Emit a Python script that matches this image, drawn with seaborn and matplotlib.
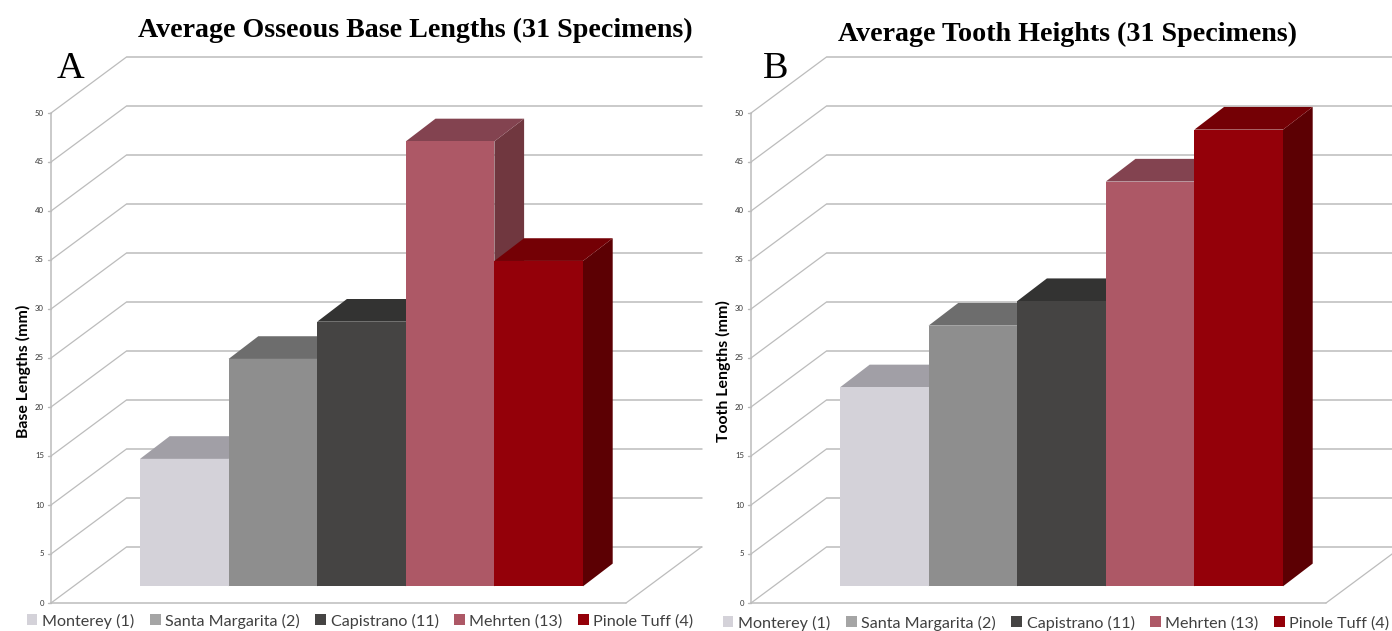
import matplotlib
matplotlib.use("Agg")
import matplotlib.pyplot as plt
import pandas as pd
import seaborn as sns
from matplotlib.patches import Polygon

units = ["Monterey (1)", "Santa Margarita (2)", "Capistrano (11)", "Mehrten (13)", "Pinole Tuff (4)"]
base_lengths = [13.0, 23.2, 27.0, 45.4, 33.2]
tooth_heights = [20.3, 26.6, 29.1, 41.3, 46.6]
ticks = [0, 5, 10, 15, 20, 25, 30, 35, 40, 45, 50]
front_colors = ["#d4d2d9", "#8e8e8e", "#454443", "#ad5866", "#940009"]
top_colors = ["#a19fa6", "#6d6d6d", "#333332", "#834350", "#740005"]
side_colors = ["#8d8b92", "#5e5e5e", "#2b2b2a", "#70373f", "#5c0003"]
legend_colors = ["#d4d2d9", "#a5a5a5", "#454443", "#ad5866", "#940009"]

W, H = 1392, 631
BAR_W, UNIT_H, BAR_BASE = 88.6, 9.8, 586.3
FONT = "Lato"
GRID = "#bcbcbc"

sns.set_theme(style="white")
plt.rcParams["font.family"] = [FONT, "DejaVu Sans"]
fig = plt.figure(figsize=(W / 100, H / 100), dpi=100, facecolor="white")


def panel(values, ax_left, ax_right, bar_left, letter, letter_x, title, title_x, title_y, ylabel, ylabel_x,
          legend_x, legend_y):
    ax = fig.add_axes([ax_left / W, 0, (ax_right - ax_left) / W, 1])
    df = pd.DataFrame({"unit": units, "value": values})
    sns.barplot(data=df, x="unit", y="value", hue="unit", order=units, hue_order=units,
                palette=front_colors, width=1, dodge=False, saturation=1, ax=ax, legend=False)
    ax.set_xlim((ax_left - bar_left) / BAR_W - 0.5, (ax_right - bar_left) / BAR_W - 0.5)
    ax.set_ylim((BAR_BASE - H) / UNIT_H, BAR_BASE / UNIT_H)
    ax.axis("off")

    # walls of the pseudo-3D frame, expressed in the bar axes' data units
    x0 = -89 / BAR_W - 0.5
    wall_dx, wall_dy = 75.5 / BAR_W, 56 / UNIT_H
    y0 = (BAR_BASE - 603) / UNIT_H
    wall_w = 575 / BAR_W
    depth_dx, depth_dy = 29.7 / BAR_W, 22.7 / UNIT_H
    for t in ticks:
        ax.plot([x0, x0 + wall_dx], [y0 + t, y0 + t + wall_dy], color=GRID, lw=0.9, zorder=1)
        ax.plot([x0 + wall_dx, x0 + wall_dx + wall_w], [y0 + t + wall_dy] * 2, color=GRID, lw=1.1, zorder=1)
        ax.plot([x0 - 3.5 / BAR_W, x0], [y0 + t] * 2, color=GRID, lw=1, zorder=1)
        ax.text(x0 - 7 / BAR_W, y0 + t, str(t), ha="right", va="center", fontsize=5.6, color="#333333")
    ax.plot([x0, x0], [y0, y0 + 50], color=GRID, lw=1.1, zorder=1)
    ax.plot([x0, x0 + wall_w], [y0, y0], color=GRID, lw=1.1, zorder=1)
    ax.plot([x0 + wall_w, x0 + wall_w + wall_dx], [y0, y0 + wall_dy], color=GRID, lw=0.9, zorder=1)

    # bar sides and tops, from the same values as the seaborn bars
    bars = list(ax.patches)
    for i, (bar, v) in enumerate(zip(bars, values)):
        bar.set_zorder(4 + i * 3)
        bar.set_linewidth(0)
        lft, rgt = i - 0.5, i + 0.5
        ax.add_patch(Polygon([(rgt, 0), (rgt + depth_dx, depth_dy), (rgt + depth_dx, v + depth_dy), (rgt, v)],
                             closed=True, fc=side_colors[i], ec="none", zorder=2 + i * 3))
        ax.add_patch(Polygon([(lft, v), (lft + depth_dx, v + depth_dy), (rgt + depth_dx, v + depth_dy), (rgt, v)],
                             closed=True, fc=top_colors[i], ec="none", zorder=3 + i * 3))

    fig.text(title_x / W, 1 - title_y / H, title, ha="center", va="center", fontsize=20.2,
             family="Liberation Serif", weight="bold", color="black")
    fig.text(letter_x / W, 1 - 69 / H, letter, ha="left", va="center", fontsize=27.5,
             family="Liberation Serif", color="black")
    fig.text(ylabel_x / W, 1 - 371 / H, ylabel, rotation=90, ha="center", va="center", fontsize=11.4,
             weight="bold", color="black")

    handles = [plt.Rectangle((0, 0), 1, 1, fc=c, ec="none") for c in legend_colors]
    fig.legend(handles, units, loc="center", bbox_to_anchor=(legend_x / W, 1 - legend_y / H), ncol=5,
               frameon=False, fontsize=11.6, handlelength=0.68, handleheight=0.68, handletextpad=0.28,
               columnspacing=0.95, labelcolor="#404040", borderpad=0, borderaxespad=0)


panel(base_lengths, 0, 716, 140, "A", 57, "Average Osseous Base Lengths (31 Specimens)", 415, 30,
      "Base Lengths (mm)", 23, 360, 621)
panel(tooth_heights, 716, 1392, 840, "B", 763, "Average Tooth Heights (31 Specimens)", 1067, 34,
      "Tooth Lengths (mm)", 723, 1056, 623)

fig.savefig("out.png", dpi=100)
